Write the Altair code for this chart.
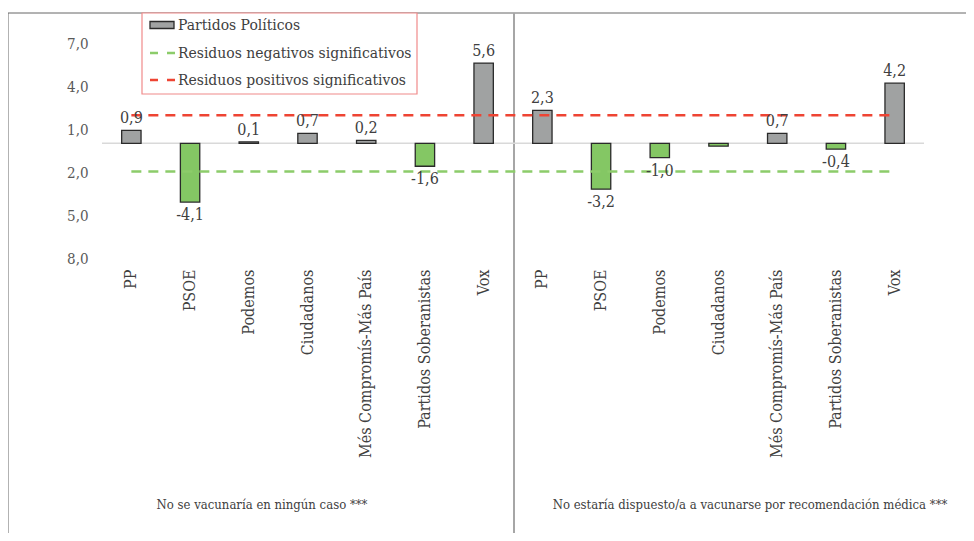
import altair as alt
import pandas as pd

# ---- data ----
parties = ["PP", "PSOE", "Podemos", "Ciudadanos", "Més Compromís-Más País",
           "Partidos Soberanistas", "Vox"]
groups = ["No se vacunaría en ningún caso ***",
          "No estaría dispuesto/a a vacunarse por recomendación médica ***"]
values_no_vacuna = [0.9, -4.1, 0.1, 0.7, 0.2, -1.6, 5.6]
values_no_medica = [2.3, -3.2, -1.0, -0.2, 0.7, -0.4, 4.2]
shown_no_medica = [True, True, True, False, True, True, True]
y_ticks = [7, 4, 1, -2, -5, -8]
threshold_pos = 1.96
threshold_neg = -1.96

# ---- build table ----
rows = []
for gi, (vals, shown) in enumerate([(values_no_vacuna, [True] * 7),
                                    (values_no_medica, shown_no_medica)]):
    for p, v, s in zip(parties, vals, shown):
        rows.append({
            "key": f"{gi}|{p}",
            "party": p,
            "value": v,
            "label": f"{v:.1f}".replace(".", ",") if s else "",
            "sign": "pos" if v >= 0 else "neg",
        })
df = pd.DataFrame(rows)
keys = list(df["key"])

thr_pos = pd.DataFrame({"key": keys, "y": [threshold_pos] * len(keys)})
thr_neg = pd.DataFrame({"key": keys, "y": [threshold_neg] * len(keys)})
one = pd.DataFrame({"a": [0]})

FONT = "DejaVu Serif Condensed, DejaVu Serif, serif"
TXT = "#404040"
GRAY = "#a0a2a2"
GREEN = "#84c764"
RED = "#ee4433"
LGREEN = "#8ccc6a"

W, H = 822, 215

x = alt.X("key:N", sort=keys,
          scale=alt.Scale(paddingInner=0.67, paddingOuter=0.335),
          axis=alt.Axis(title=None, labelAngle=-90, domain=False, ticks=False,
                        labelExpr="split(datum.value, '|')[1]",
                        labelFont=FONT, labelFontSize=16, labelColor=TXT,
                        labelPadding=11, labelLimit=300))
yscale = alt.Scale(domain=[-8, 7], nice=False, zero=False)
y = alt.Y("value:Q", scale=yscale,
          axis=alt.Axis(title=None, values=y_ticks, domain=False, ticks=False,
                        grid=False,
                        labelExpr="replace(format(abs(datum.value), '.1f'), '.', ',')",
                        labelFont=FONT, labelFontSize=15, labelColor="#595959",
                        labelPadding=14))

base = alt.Chart(df)

bars = base.mark_bar(stroke="#2a2a2a", strokeWidth=1.3).encode(
    x=x, y=y,
    color=alt.Color("sign:N", scale=alt.Scale(domain=["pos", "neg"], range=[GRAY, GREEN]),
                    legend=None),
)

zero = alt.Chart(one).mark_rule(color="#d9d9d9", strokeWidth=1.5).encode(
    y=alt.datum(0, scale=yscale)
)

line_pos = alt.Chart(thr_pos).mark_line(strokeWidth=2.6, strokeDash=[10, 7], color=RED).encode(
    x=alt.X("key:N", sort=keys), y=alt.Y("y:Q"))
line_neg = alt.Chart(thr_neg).mark_line(strokeWidth=2.6, strokeDash=[10, 7], color=LGREEN).encode(
    x=alt.X("key:N", sort=keys), y=alt.Y("y:Q"))

lab_pos = base.transform_filter("datum.value >= 0").mark_text(
    font=FONT, fontSize=16, color=TXT, baseline="alphabetic", dy=-7
).encode(x=alt.X("key:N", sort=keys), y=alt.Y("value:Q"), text="label:N")

lab_neg = base.transform_filter("datum.value < 0").mark_text(
    font=FONT, fontSize=16, color=TXT, baseline="top", dy=5
).encode(x=alt.X("key:N", sort=keys), y=alt.Y("value:Q"), text="label:N")

# ---- frame (pixel positions relative to plot origin) ----
frame_top = alt.Chart(one).mark_rule(color="#666666", strokeWidth=1).encode(
    x=alt.value(-94), x2=alt.value(880), y=alt.value(-30))
frame_left = alt.Chart(one).mark_rule(color="#666666", strokeWidth=1).encode(
    x=alt.value(-94), y=alt.value(-30), y2=alt.value(500))
divider = alt.Chart(one).mark_rule(color="#a6a6a6", strokeWidth=2).encode(
    x=alt.value(412), y=alt.value(-30), y2=alt.value(500))

# ---- manual legend ----
leg_box = alt.Chart(one).mark_rect(fill="white", stroke="#f08a8a", strokeWidth=1.2).encode(
    x=alt.value(40), x2=alt.value(315), y=alt.value(-30), y2=alt.value(51))
leg_sw = alt.Chart(one).mark_rect(fill=GRAY, stroke="#2a2a2a", strokeWidth=1.3).encode(
    x=alt.value(48), x2=alt.value(72), y=alt.value(-21.5), y2=alt.value(-14.5))
leg_g = alt.Chart(one).mark_rule(color=LGREEN, strokeWidth=2.6, strokeDash=[8, 9]).encode(
    x=alt.value(48), x2=alt.value(73), y=alt.value(10))
leg_r = alt.Chart(one).mark_rule(color=RED, strokeWidth=2.6, strokeDash=[8, 9]).encode(
    x=alt.value(48), x2=alt.value(73), y=alt.value(37))
leg_items = ["Partidos Políticos", "Residuos negativos significativos",
             "Residuos positivos significativos"]
leg_txt = [
    alt.Chart(one).mark_text(font=FONT, fontSize=15.5, color=TXT, align="left",
                             baseline="middle", text=t).encode(
        x=alt.value(76), y=alt.value(yy))
    for t, yy in zip(leg_items, [-18, 10, 37])
]

# ---- group titles ----
gt = [
    alt.Chart(one).mark_text(font=FONT, fontSize=13, color=TXT, align="center",
                             baseline="middle", text=t).encode(
        x=alt.value(xx), y=alt.value(462))
    for t, xx in zip(groups, [160, 648])
]

chart = alt.layer(
    frame_top, frame_left, divider, zero, bars, line_pos, line_neg, lab_pos, lab_neg,
    leg_box, leg_sw, leg_g, leg_r, *leg_txt, *gt
).properties(
    width=W, height=H,
    autosize=alt.AutoSizeParams(type="none"),
    padding={"left": 94, "top": 35, "right": 42, "bottom": 275},
).configure_view(stroke=None)

chart.save("out.html", embed_options={"renderer": "svg", "actions": False})
